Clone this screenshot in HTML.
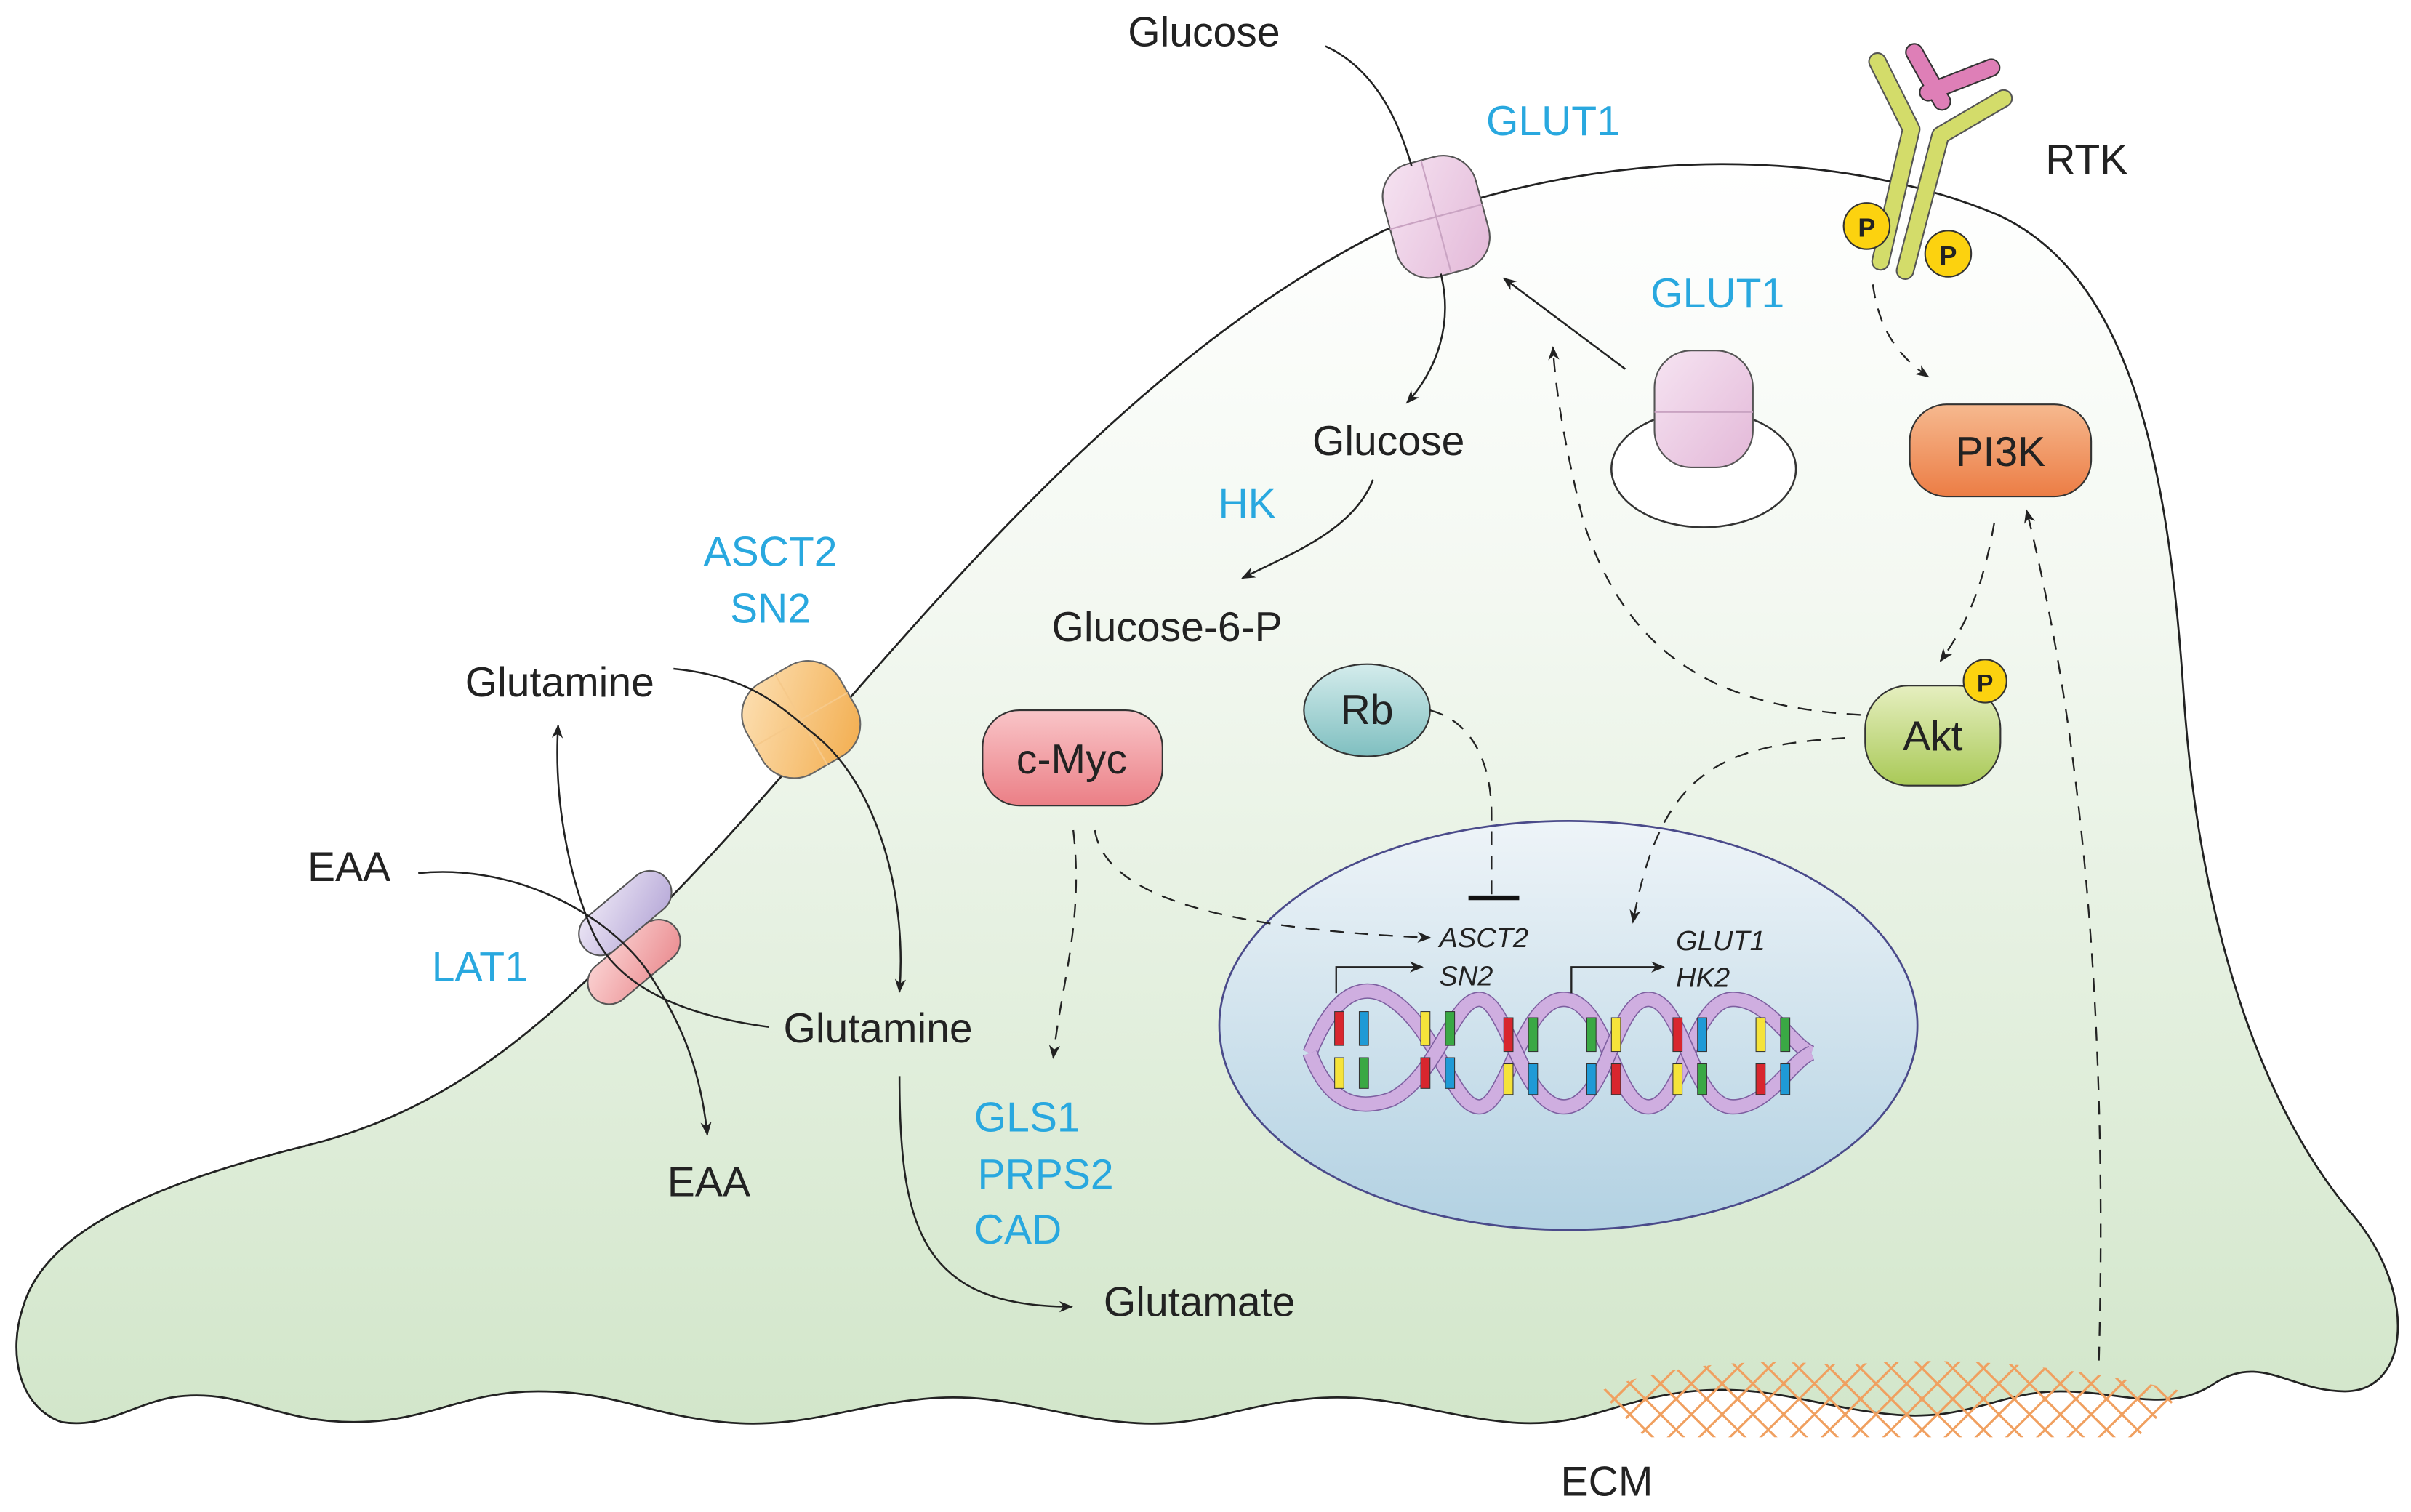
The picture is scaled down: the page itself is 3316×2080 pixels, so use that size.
<!DOCTYPE html>
<html><head><meta charset="utf-8"><style>
html,body{margin:0;padding:0;background:#fff;}
svg{display:block;}
text{font-family:"Liberation Sans",Arial,sans-serif;}
</style></head><body>
<svg width="3316" height="2080" viewBox="0 0 1568 983.5" xmlns="http://www.w3.org/2000/svg">
<defs>
<linearGradient id="cell" x1="0" y1="0" x2="0" y2="1">
<stop offset="0" stop-color="#ffffff"/><stop offset="0.35" stop-color="#f3f8f1"/><stop offset="1" stop-color="#d2e6ca"/></linearGradient>
<linearGradient id="nuc" x1="0" y1="0" x2="0" y2="1">
<stop offset="0" stop-color="#eef4f8"/><stop offset="1" stop-color="#b2d1e2"/></linearGradient>
<linearGradient id="pi3k" x1="0" y1="0" x2="0" y2="1"><stop offset="0" stop-color="#f6b98f"/><stop offset="1" stop-color="#ec7d45"/></linearGradient>
<linearGradient id="myc" x1="0" y1="0" x2="0" y2="1"><stop offset="0" stop-color="#f9c5c8"/><stop offset="1" stop-color="#eb7f86"/></linearGradient>
<linearGradient id="akt" x1="0" y1="0" x2="0" y2="1"><stop offset="0" stop-color="#e6efc0"/><stop offset="1" stop-color="#a9c957"/></linearGradient>
<linearGradient id="rb" x1="0" y1="0" x2="0" y2="1"><stop offset="0" stop-color="#d4ecec"/><stop offset="1" stop-color="#7fbfc0"/></linearGradient>
<linearGradient id="glut" x1="0" y1="0" x2="1" y2="1"><stop offset="0" stop-color="#f6e4f2"/><stop offset="1" stop-color="#e3b8d8"/></linearGradient>
<linearGradient id="asct" x1="0" y1="0" x2="1" y2="1"><stop offset="0" stop-color="#fde2b8"/><stop offset="1" stop-color="#f2ab4a"/></linearGradient>
<linearGradient id="lat1" x1="0" y1="0" x2="1" y2="1"><stop offset="0" stop-color="#fbd3d3"/><stop offset="1" stop-color="#ea8c90"/></linearGradient>
<linearGradient id="lat2" x1="0" y1="0" x2="1" y2="1"><stop offset="0" stop-color="#ece6f5"/><stop offset="1" stop-color="#b7a9d8"/></linearGradient>
<marker id="ar" viewBox="0 0 10 10" refX="9" refY="5" markerWidth="9" markerHeight="9" orient="auto" markerUnits="userSpaceOnUse">
<path d="M0,1 L10,5 L0,9 L3,5 z" fill="#222"/></marker>
<clipPath id="ecmclip"><path d="M1040,905 Q1100,880 1200,888 Q1300,878 1420,905 L1390,935 L1070,935 z"/></clipPath>
</defs>

<path d="M40,925 C12,915 5,880 15,850 C30,800 100,770 200,745 C300,720 360,660 430,590 C550,470 700,250 900,150 C1050,90 1200,98 1300,140 C1385,180 1410,300 1420,450 C1430,600 1470,720 1530,790 C1572,840 1568,905 1525,905 C1490,905 1470,880 1440,900 C1410,920 1380,905 1340,905 C1300,905 1280,925 1230,920 C1180,915 1150,900 1100,905 C1050,910 1030,930 980,925 C930,920 900,905 850,910 C800,915 780,930 730,925 C680,920 650,905 600,910 C550,915 520,930 470,925 C420,920 400,905 350,905 C300,905 280,925 230,925 C180,925 160,905 120,908 C90,910 70,930 40,925 z" fill="url(#cell)" stroke="#222" stroke-width="1.3"/>

<g clip-path="url(#ecmclip)" stroke="#f0a060" stroke-width="1.5">
<path d="M1000,860 L1100,960 M1020,860 L1120,960 M1040,860 L1140,960 M1060,860 L1160,960 M1080,860 L1180,960 M1100,860 L1200,960 M1120,860 L1220,960 M1140,860 L1240,960 M1160,860 L1260,960 M1180,860 L1280,960 M1200,860 L1300,960 M1220,860 L1320,960 M1240,860 L1340,960 M1260,860 L1360,960 M1280,860 L1380,960 M1300,860 L1400,960 M1320,860 L1420,960 M1340,860 L1440,960 M1360,860 L1460,960 M1380,860 L1480,960"/>
<path d="M1100,860 L1000,960 M1120,860 L1020,960 M1140,860 L1040,960 M1160,860 L1060,960 M1180,860 L1080,960 M1200,860 L1100,960 M1220,860 L1120,960 M1240,860 L1140,960 M1260,860 L1160,960 M1280,860 L1180,960 M1300,860 L1200,960 M1320,860 L1220,960 M1340,860 L1240,960 M1360,860 L1260,960 M1380,860 L1280,960 M1400,860 L1300,960 M1420,860 L1320,960 M1440,860 L1340,960 M1460,860 L1360,960 M1480,860 L1380,960"/>
</g>

<ellipse cx="1020" cy="667" rx="227" ry="133" fill="url(#nuc)" stroke="#4a4a8a" stroke-width="1.3"/>

<g>
<path d="M852,685 C870,640 890,640 905,650 C935,670 945,720 962,720 C980,720 990,650 1017,650 C1045,650 1050,720 1072,720 C1095,720 1100,650 1127,650 C1150,650 1165,680 1178,685" fill="none" stroke="#7d5fa0" stroke-width="10"/>
<path d="M852,685 C870,640 890,640 905,650 C935,670 945,720 962,720 C980,720 990,650 1017,650 C1045,650 1050,720 1072,720 C1095,720 1100,650 1127,650 C1150,650 1165,680 1178,685" fill="none" stroke="#cfaee0" stroke-width="8.5"/>
<path d="M852,685 C865,720 885,722 905,715 C935,700 945,650 962,650 C980,650 990,720 1017,720 C1045,720 1050,650 1072,650 C1095,650 1100,720 1127,720 C1150,720 1165,690 1178,685" fill="none" stroke="#7d5fa0" stroke-width="10"/>
<path d="M852,685 C865,720 885,722 905,715 C935,700 945,650 962,650 C980,650 990,720 1017,720 C1045,720 1050,650 1072,650 C1095,650 1100,720 1127,720 C1150,720 1165,690 1178,685" fill="none" stroke="#cfaee0" stroke-width="8.5"/>
<g stroke="#333" stroke-width="0.5">
<rect x="868" y="658" width="6" height="22" fill="#d8262e"/><rect x="884" y="658" width="6" height="22" fill="#1f9ad6"/><rect x="868" y="688" width="6" height="20" fill="#f5e33a"/><rect x="884" y="688" width="6" height="20" fill="#3aa844"/>
<rect x="924" y="658" width="6" height="22" fill="#f5e33a"/><rect x="940" y="658" width="6" height="22" fill="#3aa844"/><rect x="924" y="688" width="6" height="20" fill="#d8262e"/><rect x="940" y="688" width="6" height="20" fill="#1f9ad6"/>
<rect x="978" y="662" width="6" height="22" fill="#d8262e"/><rect x="994" y="662" width="6" height="22" fill="#3aa844"/><rect x="978" y="692" width="6" height="20" fill="#f5e33a"/><rect x="994" y="692" width="6" height="20" fill="#1f9ad6"/>
<rect x="1032" y="662" width="6" height="22" fill="#3aa844"/><rect x="1048" y="662" width="6" height="22" fill="#f5e33a"/><rect x="1032" y="692" width="6" height="20" fill="#1f9ad6"/><rect x="1048" y="692" width="6" height="20" fill="#d8262e"/>
<rect x="1088" y="662" width="6" height="22" fill="#d8262e"/><rect x="1104" y="662" width="6" height="22" fill="#1f9ad6"/><rect x="1088" y="692" width="6" height="20" fill="#f5e33a"/><rect x="1104" y="692" width="6" height="20" fill="#3aa844"/>
<rect x="1142" y="662" width="6" height="22" fill="#f5e33a"/><rect x="1158" y="662" width="6" height="22" fill="#3aa844"/><rect x="1142" y="692" width="6" height="20" fill="#d8262e"/><rect x="1158" y="692" width="6" height="20" fill="#1f9ad6"/>
</g>
</g>
<path d="M869,646 L869,629 L925,629" fill="none" stroke="#222" stroke-width="1.1" marker-end="url(#ar)"/>
<path d="M1022,646 L1022,629 L1082,629" fill="none" stroke="#222" stroke-width="1.1" marker-end="url(#ar)"/>

<!-- RTK -->
<g>
<path d="M1221,40 L1243,84 L1223,170" fill="none" stroke="#555" stroke-width="12" stroke-linecap="round" stroke-linejoin="round"/>
<path d="M1221,40 L1243,84 L1223,170" fill="none" stroke="#d3dc6a" stroke-width="10" stroke-linecap="round" stroke-linejoin="round"/>
<path d="M1303,64 L1262,88 L1239,176" fill="none" stroke="#555" stroke-width="12" stroke-linecap="round" stroke-linejoin="round"/>
<path d="M1303,64 L1262,88 L1239,176" fill="none" stroke="#d3dc6a" stroke-width="10" stroke-linecap="round" stroke-linejoin="round"/>
<path d="M1245,34 L1263,66" stroke="#333" stroke-width="12" stroke-linecap="round"/>
<path d="M1254,60 L1295,44" stroke="#333" stroke-width="12" stroke-linecap="round"/>
<path d="M1254,60 L1295,44" stroke="#de7fb7" stroke-width="10" stroke-linecap="round"/>
<path d="M1245,34 L1263,66" stroke="#de7fb7" stroke-width="10" stroke-linecap="round"/>
<circle cx="1214" cy="147" r="15" fill="#fcd20f" stroke="#333"/>
<circle cx="1267" cy="165" r="15" fill="#fcd20f" stroke="#333"/>
</g>
<text x="1214" y="154" font-size="17" font-weight="bold" text-anchor="middle" fill="#222">P</text>
<text x="1267" y="172" font-size="17" font-weight="bold" text-anchor="middle" fill="#222">P</text>

<g transform="rotate(-15 934 141)">
<rect x="903" y="103" width="62" height="76" rx="22" fill="url(#glut)" stroke="#555" stroke-width="1"/>
<path d="M934,103 L934,179 M903,141 L965,141" stroke="#c9a3c2" stroke-width="1"/>
</g>
<ellipse cx="1108" cy="305" rx="60" ry="38" fill="#fff" stroke="#333" stroke-width="1.2"/>
<rect x="1076" y="228" width="64" height="76" rx="24" fill="url(#glut)" stroke="#555" stroke-width="1"/>
<path d="M1076,268 L1140,268" stroke="#c9a3c2"/>
<g transform="rotate(-30 521 468)">
<rect x="486" y="434" width="70" height="68" rx="24" fill="url(#asct)" stroke="#666" stroke-width="1"/>
<path d="M521,434 L521,502 M486,468 L556,468" stroke="#f6c98a"/>
</g>
<g transform="rotate(-40 410 612)">
<rect x="378" y="598" width="70" height="28" rx="14" fill="url(#lat2)" stroke="#555" transform="translate(6,-16)"/>
<rect x="372" y="600" width="70" height="28" rx="14" fill="url(#lat1)" stroke="#555" transform="translate(-4,10)"/>
</g>

<rect x="1242" y="263" width="118" height="60" rx="24" fill="url(#pi3k)" stroke="#333"/>
<rect x="639" y="462" width="117" height="62" rx="24" fill="url(#myc)" stroke="#333"/>
<rect x="1213" y="446" width="88" height="65" rx="28" fill="url(#akt)" stroke="#333"/>
<circle cx="1291" cy="443" r="14" fill="#fcd20f" stroke="#333"/>
<text x="1291" y="450" font-size="16" font-weight="bold" text-anchor="middle" fill="#222">P</text>
<ellipse cx="889" cy="462" rx="41" ry="30" fill="url(#rb)" stroke="#333"/>

<g fill="none" stroke="#222" stroke-width="1.2">
<path d="M862,30 C895,45 910,80 918,108"/>
<path d="M937,178 C945,210 935,240 915,262" marker-end="url(#ar)"/>
<path d="M1057,240 L978,181" marker-end="url(#ar)"/>
<path d="M893,312 C880,345 840,360 808,376" marker-end="url(#ar)"/>
<path d="M438,435 C490,440 510,462 530,478 C570,510 590,580 585,645" marker-end="url(#ar)"/>
<path d="M585,700 C585,800 600,850 697,850" marker-end="url(#ar)"/>
<path d="M272,568 C330,562 390,590 420,630 C440,660 455,690 460,738" marker-end="url(#ar)"/>
<path d="M500,668 C440,660 400,640 385,605 C370,570 360,520 363,472" marker-end="url(#ar)"/>
</g>
<g fill="none" stroke="#222" stroke-width="1.1" stroke-dasharray="9,7">
<path d="M1210,465 C1120,460 1060,430 1030,340 C1020,300 1012,260 1010,226" marker-end="url(#ar)"/>
<path d="M1218,185 C1222,215 1235,232 1254,245" marker-end="url(#ar)"/>
<path d="M1297,340 C1290,380 1280,405 1262,430" marker-end="url(#ar)"/>
<path d="M1365,885 C1370,700 1360,500 1318,332" marker-end="url(#ar)"/>
<path d="M1200,480 C1120,485 1080,500 1062,600" marker-end="url(#ar)"/>
<path d="M930,462 C960,470 970,500 970,530 L970,582"/>
<path d="M712,540 C720,590 820,605 930,610" marker-end="url(#ar)"/>
<path d="M698,540 C705,600 690,640 685,688" marker-end="url(#ar)"/>
</g>
<path d="M955,584 L988,584" stroke="#111" stroke-width="3"/>

<g font-size="27" fill="#222">
<text x="783" y="30" text-anchor="middle">Glucose</text>
<text x="1357" y="113" text-anchor="middle">RTK</text>
<text x="903" y="296" text-anchor="middle">Glucose</text>
<text x="759" y="417" text-anchor="middle">Glucose-6-P</text>
<text x="364" y="453" text-anchor="middle">Glutamine</text>
<text x="227" y="573" text-anchor="middle">EAA</text>
<text x="571" y="678" text-anchor="middle">Glutamine</text>
<text x="461" y="778" text-anchor="middle">EAA</text>
<text x="780" y="856" text-anchor="middle">Glutamate</text>
<text x="1045" y="973" text-anchor="middle">ECM</text>
<text x="1301" y="303" text-anchor="middle">PI3K</text>
<text x="697" y="503" text-anchor="middle">c-Myc</text>
<text x="1257" y="488" text-anchor="middle">Akt</text>
<text x="889" y="471" text-anchor="middle">Rb</text>
</g>
<g font-size="27" fill="#29a8df" text-anchor="middle">
<text x="1010" y="88">GLUT1</text>
<text x="1117" y="200">GLUT1</text>
<text x="811" y="337">HK</text>
<text x="501" y="368">ASCT2</text>
<text x="501" y="405">SN2</text>
<text x="312" y="638">LAT1</text>
<text x="668" y="736">GLS1</text>
<text x="680" y="773">PRPS2</text>
<text x="662" y="809">CAD</text>
</g>
<g font-size="18" font-style="italic" fill="#222">
<text x="936" y="616">ASCT2</text>
<text x="936" y="641">SN2</text>
<text x="1090" y="618">GLUT1</text>
<text x="1090" y="642">HK2</text>
</g>
</svg>
</body></html>
